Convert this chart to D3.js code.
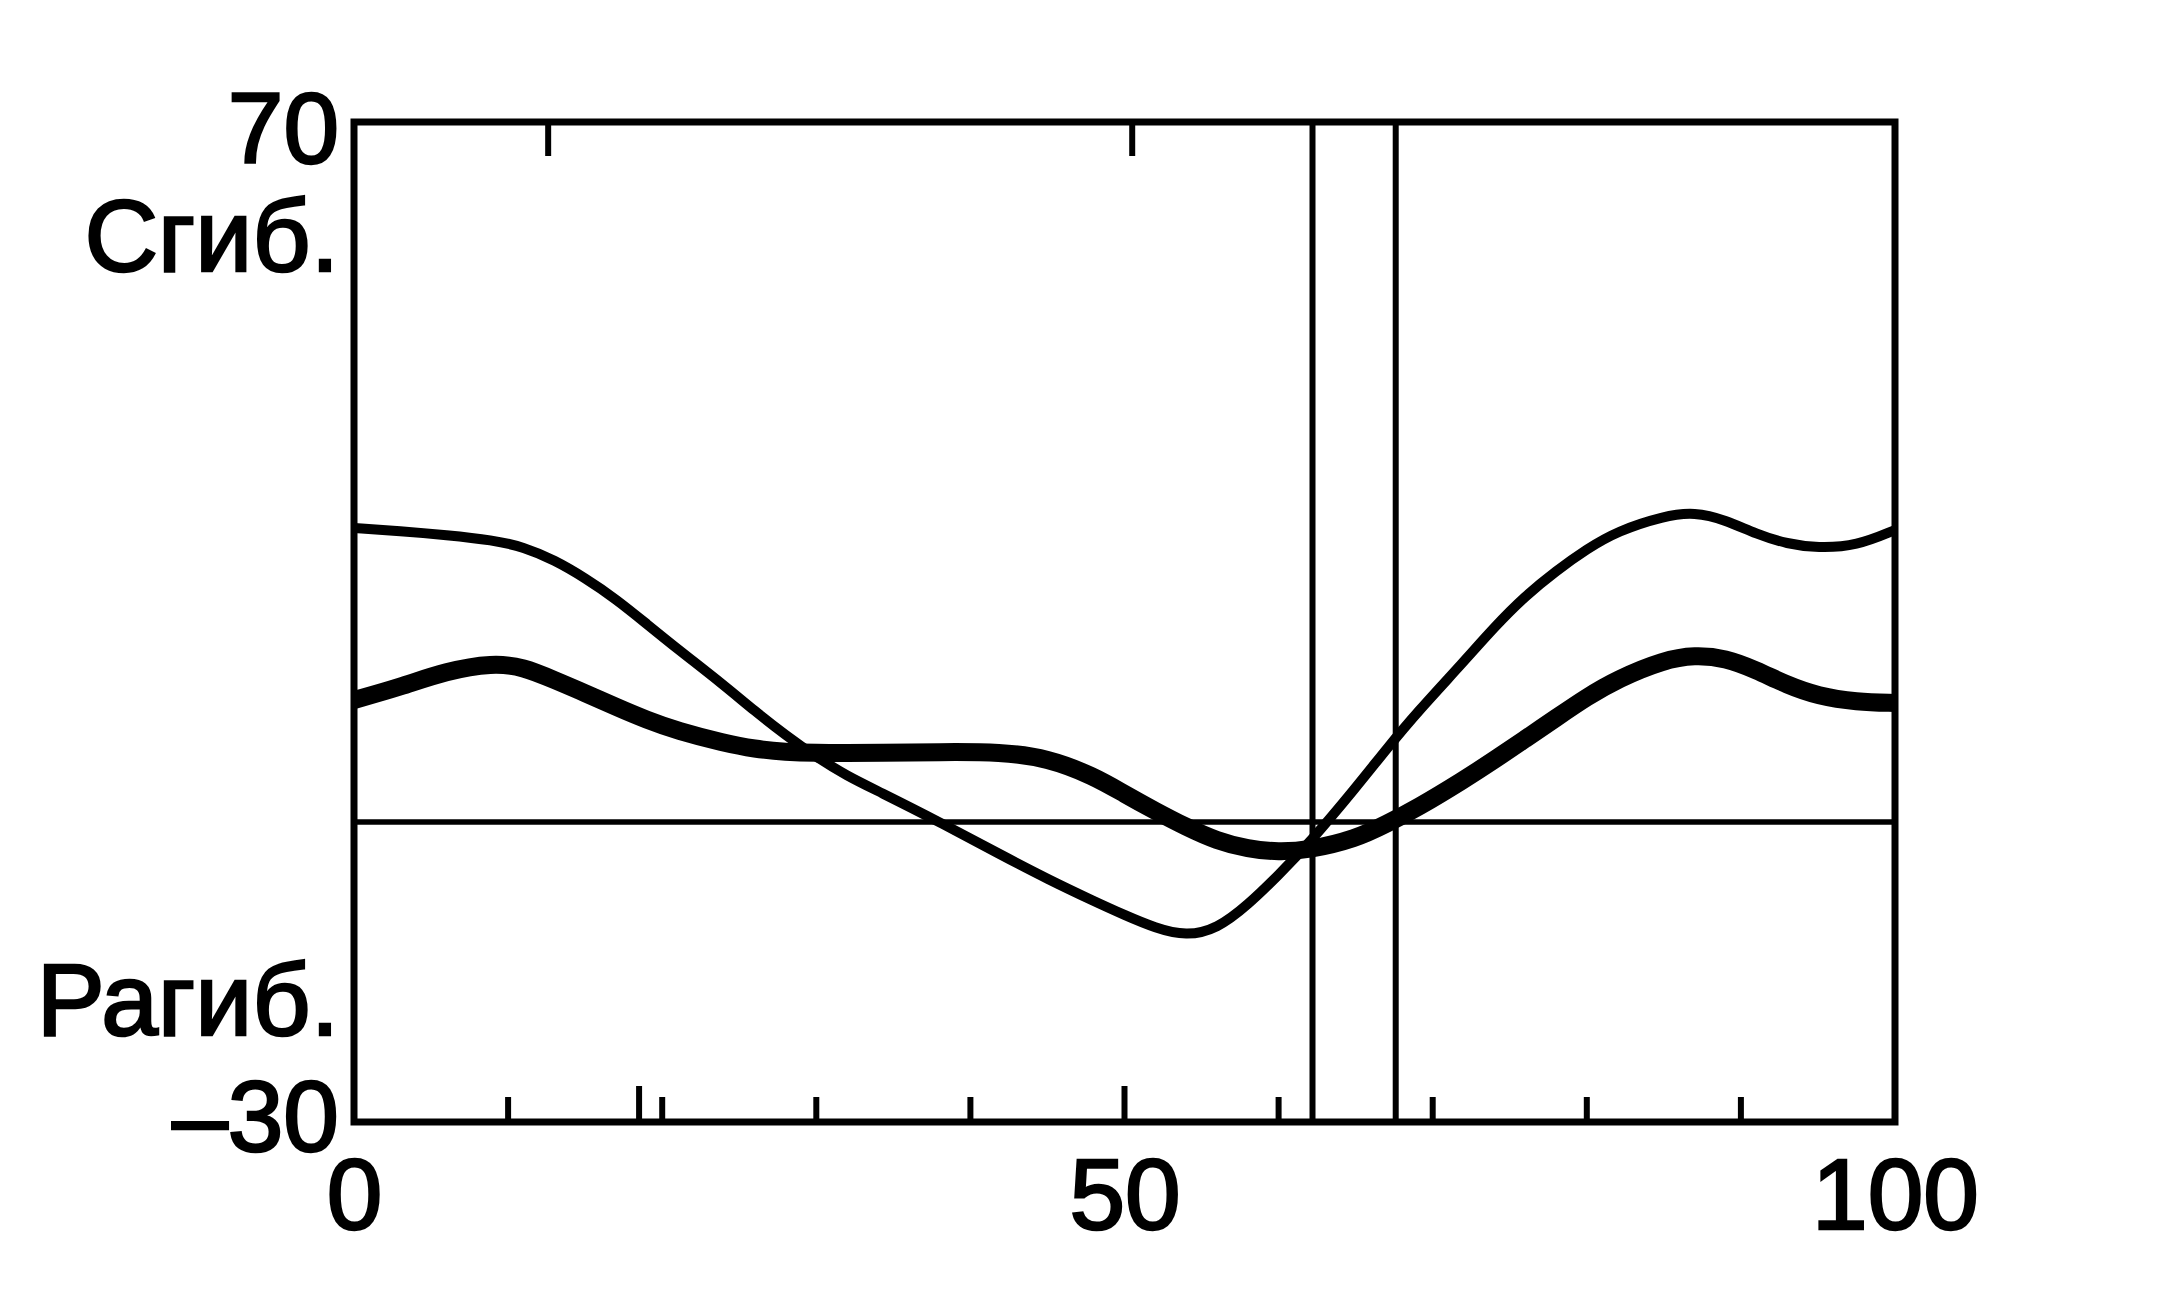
<!DOCTYPE html>
<html>
<head>
<meta charset="utf-8">
<script src="https://cdn.jsdelivr.net/npm/d3@7"></script>
<style>
  html, body { margin: 0; padding: 0; background: #ffffff; }
  svg { display: block; }
  text { font-family: "Liberation Sans", Arial, Helvetica, sans-serif; fill: #000; stroke: #000; stroke-width: 2.5px; }
</style>
</head>
<body>
<script>
// ---- data (gait cycle %, joint angle in degrees) ----
const cycle = [0, 3, 6, 9, 11, 13, 15, 17, 19, 21, 24, 26, 28, 30, 32, 34, 38, 42, 45, 48, 50, 52, 54, 56, 58, 60, 62, 65, 67, 69, 72, 74, 76, 78, 80, 82, 85, 87, 89, 91, 93, 95, 97.5, 100];
const thinSeries = [29.4, 29.1, 28.7, 28.2, 27.5, 26.2, 24.4, 22.3, 19.8, 17.3, 13.7, 11.1, 8.7, 6.5, 4.6, 3.1, 0.0, -3.3, -5.7, -7.9, -9.3, -10.6, -11.4, -10.7, -8.3, -5.3, -2.1, 3.4, 7.3, 11.0, 16.0, 19.5, 22.6, 25.1, 27.3, 29.1, 30.6, 31.0, 30.2, 28.8, 27.8, 27.4, 27.6, 29.2];
const thickSeries = [12.2, 13.5, 15.1, 15.9, 15.5, 14.2, 12.9, 11.5, 10.2, 9.1, 7.9, 7.3, 7.0, 6.9, 6.9, 6.9, 7.0, 7.0, 6.4, 4.6, 2.8, 1.1, -0.5, -1.9, -2.7, -3.0, -2.8, -1.7, -0.2, 1.4, 4.2, 6.2, 8.3, 10.4, 12.5, 14.3, 16.2, 16.7, 16.4, 15.2, 13.7, 12.6, 12.0, 11.9];
const eventLines = [62.2, 67.6];
const xTickLabels = [0, 50, 100];
const yTickLabels = [-30, 70];
const bottomTicks = [10, 20, 30, 40, 60, 70, 80, 90];
const bottomTallTicks = [18.5, 50];
const topTicks = [12.6, 50.5];
const zoneLabels = [{text: "Сгиб.", value: 58.8}, {text: "Рагиб.", value: -17.6}];

// ---- layout ----
const W = 2167, H = 1305;
const margin = {left: 354, top: 122, right: 272, bottom: 183};
const iw = W - margin.left - margin.right;
const ih = H - margin.top - margin.bottom;

const svg = d3.select("body").append("svg").attr("width", W).attr("height", H);
svg.append("rect").attr("width", W).attr("height", H).attr("fill", "#fff");
const g = svg.append("g").attr("transform", `translate(${margin.left},${margin.top})`);

const x = d3.scaleLinear().domain([0, 100]).range([0, iw]);
const y = d3.scaleLinear().domain([-30, 70]).range([ih, 0]);

// zero line
g.append("line").attr("x1", 0).attr("x2", iw).attr("y1", y(0)).attr("y2", y(0))
  .attr("stroke", "#000").attr("stroke-width", 5.5);

// event vertical lines
g.selectAll("line.event").data(eventLines).join("line").attr("class", "event")
  .attr("x1", d => x(d)).attr("x2", d => x(d)).attr("y1", 0).attr("y2", ih)
  .attr("stroke", "#000").attr("stroke-width", 6);

// inner ticks
g.selectAll("line.bt").data(bottomTicks).join("line").attr("class", "bt")
  .attr("x1", d => x(d)).attr("x2", d => x(d)).attr("y1", ih).attr("y2", ih - 25)
  .attr("stroke", "#000").attr("stroke-width", 6);
g.selectAll("line.btt").data(bottomTallTicks).join("line").attr("class", "btt")
  .attr("x1", d => x(d)).attr("x2", d => x(d)).attr("y1", ih).attr("y2", ih - 36)
  .attr("stroke", "#000").attr("stroke-width", 6);
g.selectAll("line.tt").data(topTicks).join("line").attr("class", "tt")
  .attr("x1", d => x(d)).attr("x2", d => x(d)).attr("y1", 0).attr("y2", 34)
  .attr("stroke", "#000").attr("stroke-width", 6);

// curves
const pts = s => cycle.map((c, i) => [c, s[i]]);
const line = d3.line().x(d => x(d[0])).y(d => y(d[1])).curve(d3.curveBasis);
g.append("path").attr("d", line(pts(thinSeries))).attr("fill", "none")
  .attr("stroke", "#000").attr("stroke-width", 10).attr("stroke-linejoin", "round");
g.append("path").attr("d", line(pts(thickSeries))).attr("fill", "none")
  .attr("stroke", "#000").attr("stroke-width", 18).attr("stroke-linejoin", "round");

// frame
g.append("rect").attr("x", 0).attr("y", 0).attr("width", iw).attr("height", ih)
  .attr("fill", "none").attr("stroke", "#000").attr("stroke-width", 7);

// axes (labels only)
const xAxis = d3.axisBottom(x).tickValues(xTickLabels).tickSize(0).tickPadding(36).tickFormat(d3.format("d"));
const gx = g.append("g").attr("transform", `translate(0,${ih})`).call(xAxis);
gx.select(".domain").remove();
gx.selectAll("text").style("font-size", "100px").attr("fill", "#000");

const yAxis = d3.axisLeft(y).tickValues(yTickLabels).tickSize(0).tickPadding(15)
  .tickFormat(d => d < 0 ? "\u2013" + Math.abs(d) : String(d));
const gy = g.append("g").call(yAxis);
gy.select(".domain").remove();
gy.selectAll("text").style("font-size", "100px").attr("fill", "#000")
  .attr("dy", d => d > 0 ? "0.40em" : "0.28em");

// zone labels
g.selectAll("text.zone").data(zoneLabels).join("text").attr("class", "zone")
  .attr("x", -15).attr("y", d => y(d.value)).attr("dy", "0.36em")
  .attr("text-anchor", "end").style("font-size", "102px").text(d => d.text);
</script>
</body>
</html>
